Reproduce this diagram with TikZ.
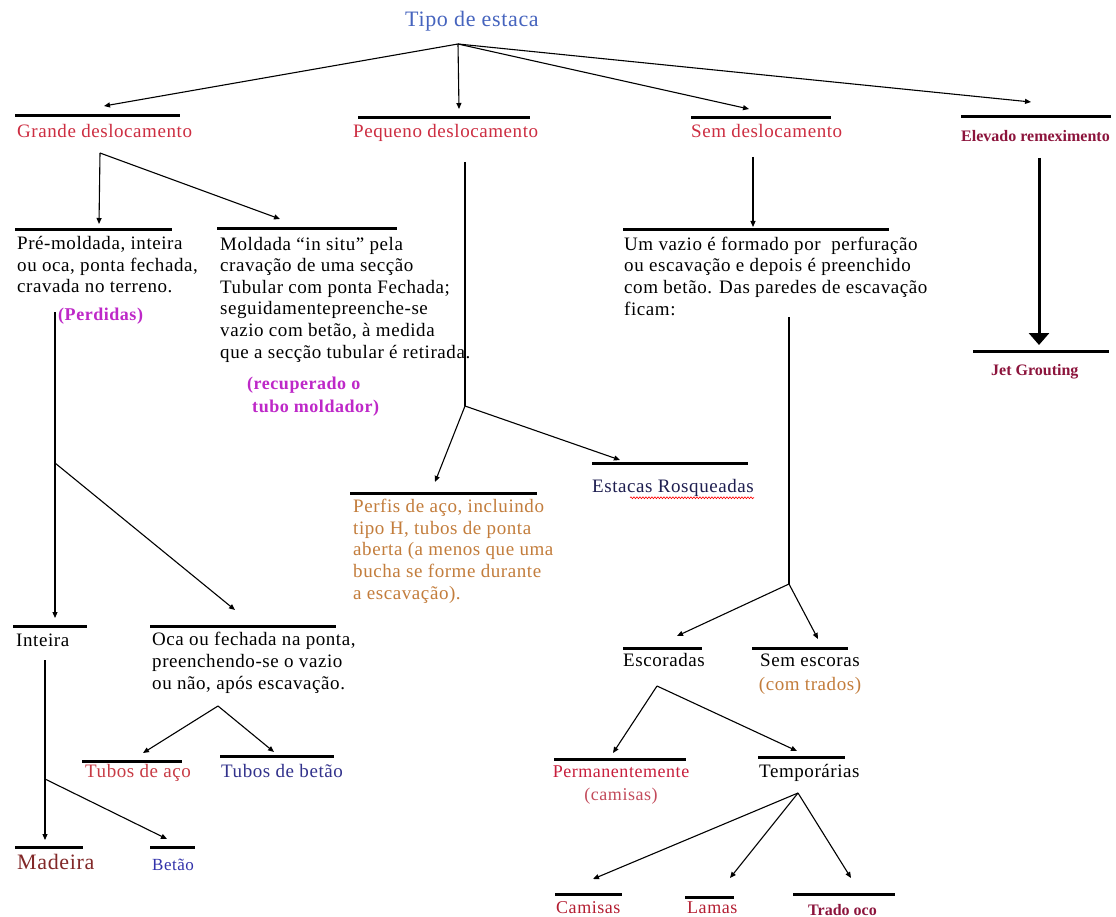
\documentclass[tikz,border=0pt]{standalone}
\usepackage{fontspec}
\setmainfont{Liberation Serif}
\newfontfamily\bodyfont[LetterSpace=3]{Liberation Serif}
\usetikzlibrary{arrows.meta,decorations.pathmorphing}
\definecolor{tipoblue}{RGB}{70,100,190}
\definecolor{lblred}{RGB}{205,45,65}
\definecolor{darkred}{RGB}{140,20,60}
\definecolor{magen}{RGB}{190,40,200}
\definecolor{perfor}{RGB}{195,125,60}
\definecolor{navy}{RGB}{30,30,80}
\definecolor{acored}{RGB}{200,60,70}
\definecolor{tbetblue}{RGB}{50,50,140}
\definecolor{madred}{RGB}{130,40,40}
\definecolor{betblue}{RGB}{50,50,170}
\definecolor{permred}{RGB}{200,30,60}
\definecolor{camred}{RGB}{180,30,50}
\tikzset{
  x=1pt, y=-1pt,
  conn/.style={line width=1.1pt, -{Triangle[length=6pt,width=5pt]}},
  plain/.style={line width=1.1pt},
  bar/.style={fill=black, inner sep=0pt, minimum height=3pt, anchor=west, draw=none},
  txt/.style={anchor=base west, inner sep=0pt, align=left, font=\bodyfont\fontsize{19}{21.6}\selectfont},
  ctxt/.style={anchor=base, inner sep=0pt, align=center, font=\bodyfont\fontsize{18}{23}\selectfont},
  btxt/.style={anchor=base west, inner sep=0pt, align=left, font=\bfseries\fontsize{16}{19}\selectfont},
  mtxt/.style={anchor=base west, inner sep=0pt, align=left, text=magen, font=\bodyfont\bfseries\fontsize{18}{23}\selectfont},
}
\begin{document}
\begin{tikzpicture}
\fill[white] (0,0) rectangle (1116,917);
\useasboundingbox (0,0) rectangle (1116,917);

% ---------- title ----------
\node[txt, text=tipoblue, font=\bodyfont\fontsize{22}{26}\selectfont] (tipo) at (405,27) {Tipo de estaca};
\coordinate (root) at (458,44);

% ---------- level 1 ----------
\node[bar, minimum width=165pt] (gbar) at (15,116) {};
\node[bar, minimum width=172pt] (pbar) at (358,118) {};
\node[bar, minimum width=140pt] (sbar) at (691,118) {};
\node[bar, minimum width=150pt] (ebar) at (961,117) {};
\node[txt, text=lblred] (grande) at (17,138) {Grande deslocamento};
\node[txt, text=lblred] (pequeno) at (353,138) {Pequeno deslocamento};
\node[txt, text=lblred] (sem) at (691,138) {Sem deslocamento};
\node[btxt, text=darkred] (elevado) at (961,142) {Elevado remeximento};

\coordinate (tipG) at (104,106);
\coordinate (tipP) at (459,109);
\coordinate (tipS) at (749,109);
\coordinate (tipE) at (1031,102);
\draw[conn] (root) -- (tipG);
\draw[conn] (root) -- (tipP);
\draw[conn] (root) -- (tipS);
\draw[conn] (root) -- (tipE);

% ---------- Grande deslocamento ----------
\coordinate (jG) at (100,153);
\coordinate (tipPre) at (99,224);
\coordinate (tipMol) at (280,219);
\draw[conn] (jG) -- (tipPre);
\draw[conn] (jG) -- (tipMol);
\node[bar, minimum width=157pt] (prebar) at (15,230) {};
\node[bar, minimum width=180pt] (molbar) at (217,229) {};
% multi-line nodes: base anchor = last line's baseline
\node[txt] (pre) at (17,293) {Pré-moldada, inteira\\ou oca, ponta fechada,\\cravada no terreno.};
\node[txt] (mol) at (220,358) {Moldada “in situ” pela\\cravação de uma secção\\Tubular com ponta Fechada;\\seguidamentepreenche-se\\vazio com betão, à medida\\que a secção tubular é retirada.};
\node[mtxt] (perd) at (58,320) {(Perdidas)};
\node[mtxt] (recup) at (247,412) {(recuperado o\\\ tubo moldador)};

\coordinate (sPerd) at (55,312);
\coordinate (jPerd) at (55,463);
\coordinate (tipInt) at (55,618);
\coordinate (tipOca) at (235,610);
\draw[conn] (sPerd) -- (tipInt);
\draw[conn] (jPerd) -- (tipOca);

\node[bar, minimum width=74pt] (intbar) at (13,626) {};
\node[bar, minimum width=186pt] (ocabar) at (150,626) {};
\node[txt] (inteira) at (16,646) {Inteira};
\node[txt] (oca) at (152,689) {Oca ou fechada na ponta,\\preenchendo-se o vazio\\ou não, após escavação.};

\coordinate (jOca) at (218,706);
\coordinate (tipAco) at (143,753);
\coordinate (tipTB) at (274,752);
\draw[conn] (jOca) -- (tipAco);
\draw[conn] (jOca) -- (tipTB);
\node[bar, minimum width=100pt] (acobar) at (82,761) {};
\node[bar, minimum width=114pt] (tbbar) at (220,756) {};
\node[txt, text=acored] (aco) at (85,777) {Tubos de aço};
\node[txt, text=tbetblue] (tbet) at (221,777) {Tubos de betão};

\coordinate (sInt) at (45,660);
\coordinate (jInt) at (45,779);
\coordinate (tipMad) at (45,840);
\coordinate (tipBet) at (167,839);
\draw[conn] (sInt) -- (tipMad);
\draw[conn] (jInt) -- (tipBet);
\node[bar, minimum width=68pt] (madbar) at (15,847) {};
\node[bar, minimum width=45pt] (betbar) at (150,847) {};
\node[txt, text=madred, font=\bodyfont\fontsize{22}{26}\selectfont] (madeira) at (17,869) {Madeira};
\node[txt, text=betblue, font=\bodyfont\fontsize{17}{20}\selectfont] (betao) at (152,870) {Betão};

% ---------- Pequeno deslocamento ----------
\coordinate (sPeq) at (465,162);
\coordinate (jPeq) at (465,406);
\coordinate (tipPerf) at (435,482);
\coordinate (tipEst) at (620,460);
\draw[plain] (sPeq) -- (jPeq);
\draw[conn] (jPeq) -- (tipPerf);
\draw[conn] (jPeq) -- (tipEst);
\node[bar, minimum width=187pt] (perfbar) at (350,493) {};
\node[bar, minimum width=156pt] (estbar) at (592,463) {};
\node[txt, text=perfor] (perfis) at (353,599) {Perfis de aço, incluindo\\tipo H, tubos de ponta\\aberta (a menos que uma\\bucha se forme durante\\a escavação).};
\node[txt, text=navy] (estacas) at (592,492) {Estacas Rosqueadas};
\draw[red, line width=0.6pt, decorate, decoration={snake, amplitude=0.9pt, segment length=3pt}] (estacas.south east) ++(0,1.5) coordinate (wavyE) (wavyE -| 630,0) -- (wavyE);

% ---------- Sem deslocamento ----------
\coordinate (sSem) at (753,157);
\coordinate (tipVaz) at (753,227);
\draw[conn] (sSem) -- (tipVaz);
\node[bar, minimum width=266pt] (vazbar) at (623,230) {};
\node[txt] (vazio) at (624,315) {Um vazio é formado por~ perfuração\\ou escavação e depois é preenchido\\com betão. Das paredes de escavação\\ficam:};

\coordinate (sVaz) at (789,317);
\coordinate (jVaz) at (789,584);
\coordinate (tipEsc) at (677,636);
\coordinate (tipSE) at (818,639);
\draw[plain] (sVaz) -- (jVaz);
\draw[conn] (jVaz) -- (tipEsc);
\draw[conn] (jVaz) -- (tipSE);
\node[bar, minimum width=79pt] (escbar) at (623,648) {};
\node[bar, minimum width=96pt] (sebar) at (752,648) {};
\node[txt] (escoradas) at (623,666) {Escoradas};
\node[ctxt, font=\bodyfont\fontsize{19}{24}\selectfont] (semesc) at (810,690) {Sem escoras\\\color{perfor}(com trados)};

\coordinate (jEsc) at (657,686);
\coordinate (tipPerm) at (613,753);
\coordinate (tipTemp) at (797,751);
\draw[conn] (jEsc) -- (tipPerm);
\draw[conn] (jEsc) -- (tipTemp);
\node[bar, minimum width=132pt] (permbar) at (554,759) {};
\node[bar, minimum width=87pt] (tempbar) at (758,757) {};
\node[ctxt, text=permred] (perm) at (621,800) {Permanentemente\\\color{camred!80!white}(camisas)};
\node[txt] (temp) at (759,777) {Temporárias};

\coordinate (jTemp) at (798,793);
\coordinate (tipCam) at (593,879);
\coordinate (tipLam) at (730,878);
\coordinate (tipTr) at (851,878);
\draw[conn] (jTemp) -- (tipCam);
\draw[conn] (jTemp) -- (tipLam);
\draw[conn] (jTemp) -- (tipTr);
\node[bar, minimum width=67pt] (cambar) at (555,894) {};
\node[bar, minimum width=49pt] (lambar) at (685,897) {};
\node[bar, minimum width=102pt] (trbar) at (793,894) {};
\node[txt, text=camred, font=\bodyfont\fontsize{18}{21}\selectfont] (camisas) at (556,913) {Camisas};
\node[txt, text=camred, font=\bodyfont\fontsize{18}{21}\selectfont] (lamas) at (687,913) {Lamas};
\node[btxt, text=darkred] (trado) at (808,915) {Trado oco};

% ---------- Elevado remeximento ----------
\coordinate (sJet) at (1039,158);
\coordinate (tipJet) at (1039,345);
\draw[line width=3pt, -{Triangle[length=12pt,width=20pt]}] (sJet) -- (tipJet);
\node[bar, minimum width=136pt] (jetbar) at (973,351) {};
\node[btxt, text=darkred] (jet) at (991,375) {Jet Grouting};
\end{tikzpicture}
\end{document}
